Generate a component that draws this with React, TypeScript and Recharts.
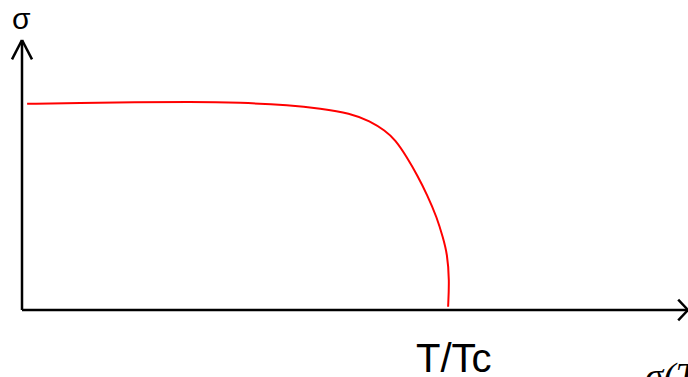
import React from "react";
import { LineChart, Line, XAxis, YAxis, ReferenceLine } from "recharts";

// T/Tc and sigma (sigma(0) = 1, Tc = 1)
const tValues = [0.012, 0.136, 0.265, 0.394, 0.512, 0.629, 0.7, 0.77, 0.817, 0.852, 0.876, 0.904, 0.927, 0.951, 0.974, 0.988, 0.998, 1.003, 1.0];
const sigmaValues = [0.999, 1.003, 1.007, 1.009, 1.005, 0.992, 0.976, 0.954, 0.915, 0.869, 0.825, 0.738, 0.655, 0.558, 0.447, 0.35, 0.272, 0.146, 0.016];

const xMax = 1.563;
const yMax = 1.308;

const data = tValues.map((t, i) => ({ t, sigma: sigmaValues[i] }));

const ink = "#000";
const w = 2.5;

export default function App() {
  return (
    <div style={{ position: "absolute", left: 0, top: 0, width: 688, height: 377, overflow: "hidden", background: "#fff" }}>
      <LineChart width={688} height={377} data={data} margin={{ top: 40, right: 0, bottom: 67, left: 22 }}>
        <XAxis dataKey="t" type="number" domain={[0, xMax]} allowDataOverflow hide />
        <YAxis type="number" domain={[0, yMax]} allowDataOverflow hide />
        {/* axes */}
        <ReferenceLine segment={[{ x: 0, y: 0 }, { x: xMax, y: 0 }]} stroke={ink} strokeWidth={w} ifOverflow="visible" />
        <ReferenceLine segment={[{ x: 0, y: 0 }, { x: 0, y: yMax }]} stroke={ink} strokeWidth={w} ifOverflow="visible" />
        {/* arrow heads */}
        <ReferenceLine segment={[{ x: -0.0235, y: 1.214 }, { x: 0, y: yMax }]} stroke={ink} strokeWidth={w} ifOverflow="visible" />
        <ReferenceLine segment={[{ x: 0.0235, y: 1.214 }, { x: 0, y: yMax }]} stroke={ink} strokeWidth={w} ifOverflow="visible" />
        <ReferenceLine segment={[{ x: 1.54, y: 0.05 }, { x: xMax, y: 0 }]} stroke={ink} strokeWidth={w} ifOverflow="visible" />
        <ReferenceLine segment={[{ x: 1.54, y: -0.05 }, { x: xMax, y: 0 }]} stroke={ink} strokeWidth={w} ifOverflow="visible" />
        <Line
          type="basis"
          dataKey="sigma"
          stroke="#ff0000"
          strokeWidth={2}
          dot={false}
          isAnimationActive={false}
        />
      </LineChart>
      <svg width={688} height={377} style={{ position: "absolute", left: 0, top: 0, pointerEvents: "none" }}>
        <text x={12} y={29} fontFamily="Liberation Sans, sans-serif" fontSize={30} fill={ink}>σ</text>
        <text x={416} y={372} fontFamily="Liberation Sans, sans-serif" fontSize={40} fill={ink}>T/Tc</text>
        <text x={645} y={389} fontFamily="Liberation Serif, serif" fontStyle="italic" fontSize={37} fill={ink}>σ(T)</text>
      </svg>
    </div>
  );
}
